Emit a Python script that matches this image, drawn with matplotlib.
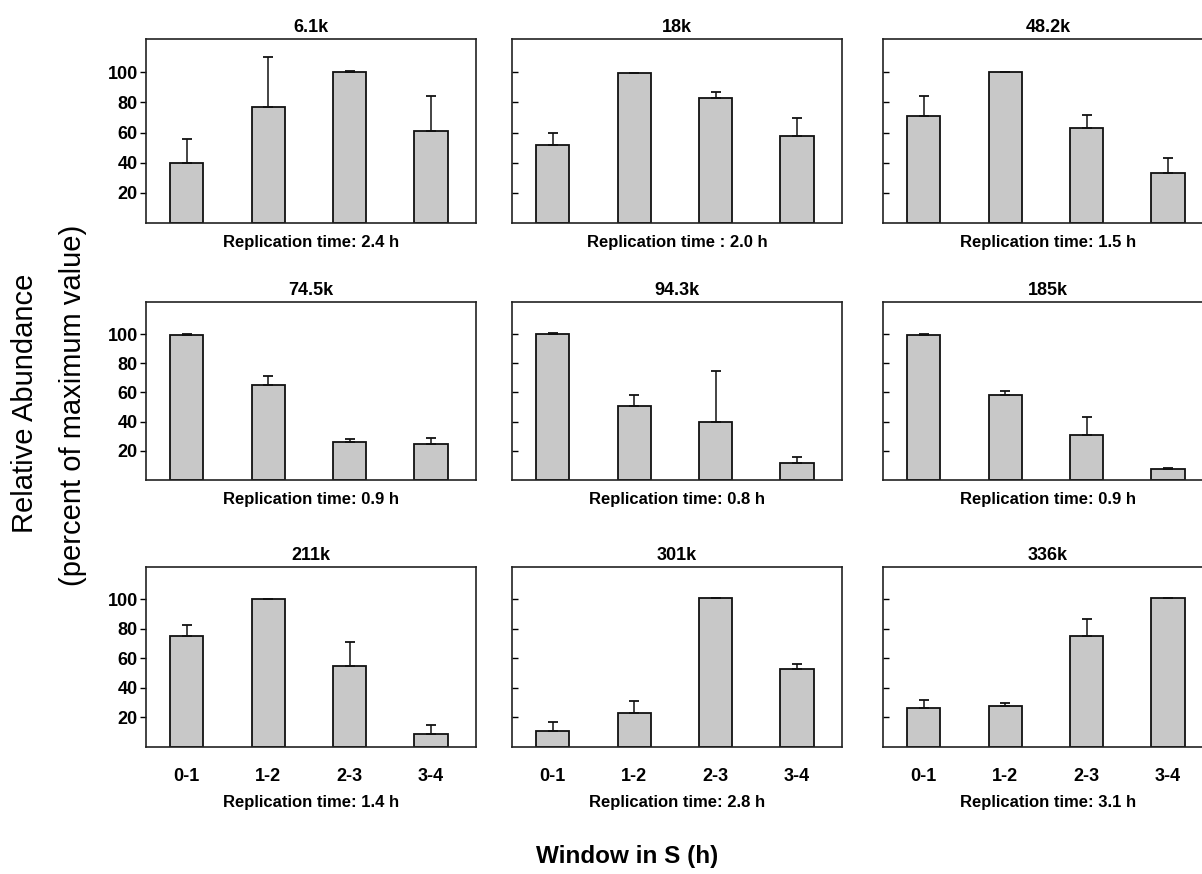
import matplotlib
matplotlib.use("Agg")
import matplotlib.pyplot as plt

plt.rcParams['font.family'] = ['Liberation Sans', 'DejaVu Sans']

windows = ['0-1', '1-2', '2-3', '3-4']
titles = ['6.1k', '18k', '48.2k', '74.5k', '94.3k', '185k', '211k', '301k', '336k']
rep_times = ['Replication time: 2.4 h', 'Replication time : 2.0 h', 'Replication time: 1.5 h',
             'Replication time: 0.9 h', 'Replication time: 0.8 h', 'Replication time: 0.9 h',
             'Replication time: 1.4 h', 'Replication time: 2.8 h', 'Replication time: 3.1 h']

# mean relative abundance per window (percent of max) and upper error
means = [
    [40, 77, 100, 61],
    [52, 99.5, 83, 58],
    [71, 100, 63, 33],
    [99.5, 65, 26, 25],
    [100, 51, 40, 11.5],
    [99.5, 58, 31, 7.5],
    [75, 100.5, 55, 9],
    [11, 23, 101, 53],
    [26.5, 27.5, 75, 101],
]
errs = [
    [16, 33, 1, 23],
    [8, 0, 4, 11.5],
    [13, 0, 8.5, 10],
    [0.5, 6.5, 2, 3.5],
    [0.5, 7, 35, 4],
    [0.5, 3, 12, 1],
    [8, 0, 16, 6],
    [6, 8, 0, 3],
    [5.5, 2.5, 12, 0],
]

W, H = 1202, 874
fig = plt.figure(figsize=(W / 100, H / 100), dpi=100)

col_left = [146, 512, 883]
col_w = 330
row_top = [39, 302, 567]
row_bot = [223, 480, 747]

x = list(range(len(windows)))
for i in range(9):
    r, c = divmod(i, 3)
    ax = fig.add_axes([col_left[c] / W, 1 - row_bot[r] / H,
                       col_w / W, (row_bot[r] - row_top[r]) / H])
    ax.bar(x, means[i], width=0.41, color='#c8c8c8', edgecolor='#111111', linewidth=1.3, zorder=2)
    ax.errorbar(x, means[i], yerr=[[0] * 4, errs[i]], fmt='none', ecolor='#111111',
                elinewidth=1.1, capsize=3.5, capthick=1.3, zorder=3)
    ax.set_xlim(-0.5, 3.55)
    ax.set_ylim(0, 122)
    ax.set_yticks([20, 40, 60, 80, 100])
    for s in ax.spines.values():
        s.set_linewidth(1.2)
        s.set_color('#222222')
    ax.set_title(titles[i], fontsize=13, fontweight='bold', pad=5)
    if c == 0:
        ax.tick_params(axis='y', direction='out', length=4, width=1, pad=2, labelsize=13)
        for t in ax.get_yticklabels():
            t.set_fontweight('bold')
    else:
        ax.tick_params(axis='y', direction='in', length=4, width=1, labelleft=False)
    ax.set_xticks(x)
    if r == 2:
        ax.set_xticklabels(windows, fontsize=13, fontweight='bold')
        ax.tick_params(axis='x', length=0, pad=15)
        off = -40
    else:
        ax.set_xticklabels([])
        ax.tick_params(axis='x', length=0)
        off = -14
    ax.annotate(rep_times[i], xy=(0.5, 0), xycoords='axes fraction',
                xytext=(0, off), textcoords='offset points',
                ha='center', va='center', fontsize=12, fontweight='bold')

fig.text(25 / W, 1 - 403 / H, 'Relative Abundance', rotation=90,
         ha='center', va='center', fontsize=21)
fig.text(73 / W, 1 - 405 / H, '(percent of maximum value)', rotation=90,
         ha='center', va='center', fontsize=21)
fig.text(627 / W, 1 - 857 / H, 'Window in S (h)', ha='center', va='center',
         fontsize=17.5, fontweight='bold')

fig.savefig('out.png', dpi=100)
